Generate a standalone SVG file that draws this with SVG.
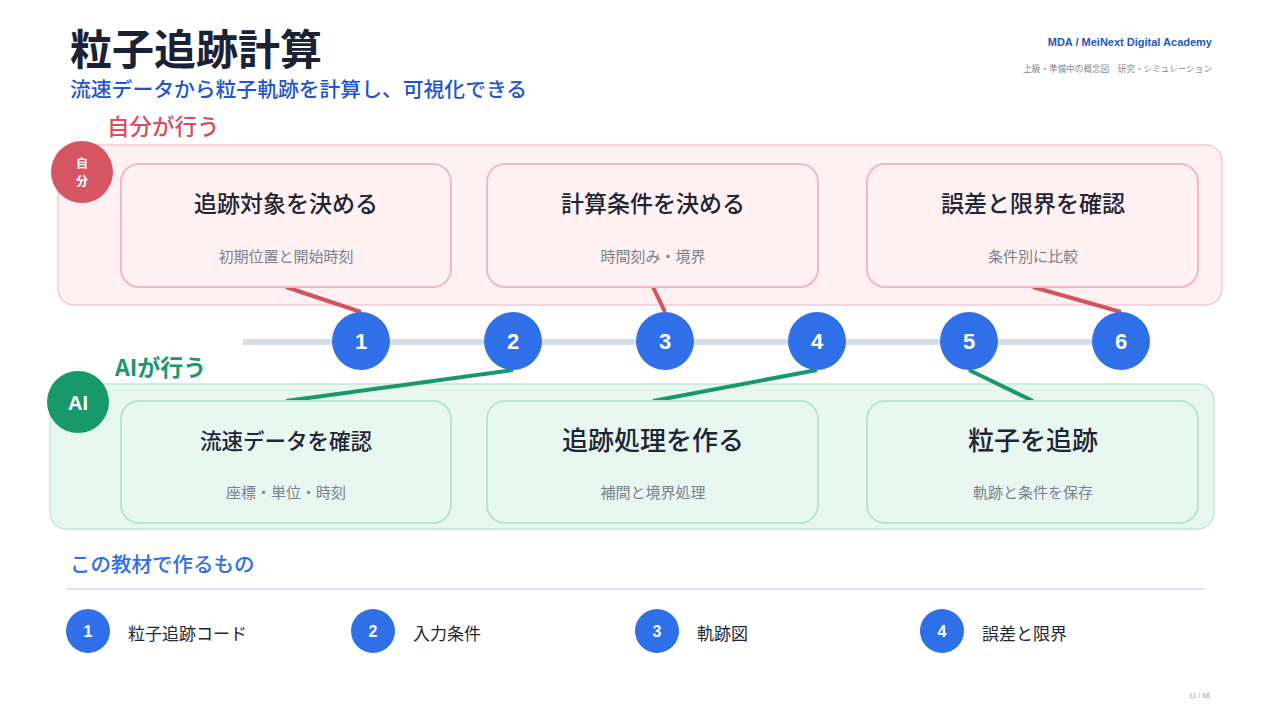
<svg xmlns="http://www.w3.org/2000/svg" width="1280" height="720" viewBox="0 0 1280 720">
<defs>
<style>
text{font-family:"Noto Sans CJK JP","Noto Sans",sans-serif}
.num{font-family:"Liberation Sans","Noto Sans",sans-serif;font-weight:bold;fill:#fff;text-anchor:middle}
.ct{font-size:23px;font-weight:500;fill:#1e2535;text-anchor:middle}
.cs{font-size:15px;fill:#7a808e;text-anchor:middle}
.pc{fill:#fff0f2;stroke:#f2b8c1;stroke-width:2}
.gc{fill:#e8f6f0;stroke:#b8e2d1;stroke-width:2}
.tc{fill:#2f6fe8}
.rl{stroke:#d55360;stroke-width:4;fill:none}
.gl{stroke:#17996a;stroke-width:4;fill:none}
.bl{font-size:17px;fill:#1e2535}
</style>
</defs>
<rect width="1280" height="720" fill="#fff"/>
<g id="header">
<text x="70" y="65" font-size="42" font-weight="bold" fill="#1b2233">粒子追跡計算</text>
<text x="70" y="97" font-size="20.8" font-weight="500" fill="#1f56c8">流速データから粒子軌跡を計算し、可視化できる</text>
<text x="1212" y="46" font-size="11" font-weight="bold" fill="#2455c6" text-anchor="end" style="font-family:'Liberation Sans',sans-serif">MDA / MeiNext Digital Academy</text>
<text x="1212" y="72" font-size="8.6" fill="#858b98" text-anchor="end">上級・準備中の概念図　研究・シミュレーション</text>
</g>
<g id="self-lane">
<text x="107" y="135" font-size="22.5" font-weight="500" fill="#d5505f">自分が行う</text>
<rect x="58" y="145" width="1164" height="160" rx="16" fill="#fff0f2" stroke="#f7c9cf" stroke-width="1.5"/>
<circle cx="82" cy="172" r="31" fill="#d65563"/>
<text x="82" y="168" font-size="12" font-weight="bold" fill="#fff" text-anchor="middle">自</text>
<text x="82" y="186" font-size="12" font-weight="bold" fill="#fff" text-anchor="middle">分</text>
</g>
<g id="ai-lane">
<text x="115" y="376" font-size="23" font-weight="bold" fill="#17996a">AIが行う</text>
<rect x="50" y="384" width="1164" height="145" rx="16" fill="#e8f6f0" stroke="#c2e6d8" stroke-width="1.5"/>
<circle cx="78" cy="402" r="31" fill="#17996a"/>
<text x="78" y="410" font-size="20" class="num">AI</text>
</g>
<g id="timeline">
<line x1="243" y1="342" x2="1121" y2="342" stroke="#d6dde8" stroke-width="6"/>
</g>
<g id="connectors">
<line class="rl" x1="286" y1="287" x2="361" y2="312"/>
<line class="rl" x1="653" y1="287" x2="665" y2="312"/>
<line class="rl" x1="1033" y1="287" x2="1121" y2="312"/>
<line class="gl" x1="513" y1="370" x2="286" y2="401"/>
<line class="gl" x1="817" y1="370" x2="653" y2="401"/>
<line class="gl" x1="969" y1="370" x2="1033" y2="401"/>
</g>
<g id="card-s1"><rect class="pc" x="121" y="164" width="330" height="123" rx="18"/><text class="ct" x="286" y="212">追跡対象を決める</text><text class="cs" x="286" y="262">初期位置と開始時刻</text></g>
<g id="card-s2"><rect class="pc" x="487" y="164" width="331" height="123" rx="18"/><text class="ct" x="653" y="212">計算条件を決める</text><text class="cs" x="653" y="262">時間刻み・境界</text></g>
<g id="card-s3"><rect class="pc" x="867" y="164" width="331" height="123" rx="18"/><text class="ct" x="1033" y="212">誤差と限界を確認</text><text class="cs" x="1033" y="262">条件別に比較</text></g>
<g id="card-a1"><rect class="gc" x="121" y="401" width="330" height="122" rx="18"/><text class="ct" x="286" y="449" style="font-size:21.5px">流速データを確認</text><text class="cs" x="286" y="498">座標・単位・時刻</text></g>
<g id="card-a2"><rect class="gc" x="487" y="401" width="331" height="122" rx="18"/><text class="ct" x="653" y="450" style="font-size:26px">追跡処理を作る</text><text class="cs" x="653" y="498">補間と境界処理</text></g>
<g id="card-a3"><rect class="gc" x="867" y="401" width="331" height="122" rx="18"/><text class="ct" x="1033" y="450" style="font-size:26px">粒子を追跡</text><text class="cs" x="1033" y="498">軌跡と条件を保存</text></g>
<g id="step1"><circle class="tc" cx="361" cy="341" r="29"/><text class="num" x="361" y="349" font-size="22">1</text></g>
<g id="step2"><circle class="tc" cx="513" cy="341" r="29"/><text class="num" x="513" y="349" font-size="22">2</text></g>
<g id="step3"><circle class="tc" cx="665" cy="341" r="29"/><text class="num" x="665" y="349" font-size="22">3</text></g>
<g id="step4"><circle class="tc" cx="817" cy="341" r="29"/><text class="num" x="817" y="349" font-size="22">4</text></g>
<g id="step5"><circle class="tc" cx="969" cy="341" r="29"/><text class="num" x="969" y="349" font-size="22">5</text></g>
<g id="step6"><circle class="tc" cx="1121" cy="341" r="29"/><text class="num" x="1121" y="349" font-size="22">6</text></g>
<g id="outputs">
<text x="70" y="572" font-size="20.5" font-weight="500" fill="#2f6fe8">この教材で作るもの</text>
<line x1="66" y1="589" x2="1204" y2="589" stroke="#dde3ee" stroke-width="2"/>
</g>
<g id="out1"><circle class="tc" cx="88" cy="631" r="22"/><text class="num" x="88" y="637" font-size="16">1</text><text class="bl" x="128" y="640">粒子追跡コード</text></g>
<g id="out2"><circle class="tc" cx="373" cy="631" r="22"/><text class="num" x="373" y="637" font-size="16">2</text><text class="bl" x="413" y="640">入力条件</text></g>
<g id="out3"><circle class="tc" cx="657" cy="631" r="22"/><text class="num" x="657" y="637" font-size="16">3</text><text class="bl" x="697" y="640">軌跡図</text></g>
<g id="out4"><circle class="tc" cx="942" cy="631" r="22"/><text class="num" x="942" y="637" font-size="16">4</text><text class="bl" x="982" y="640">誤差と限界</text></g>
<text x="1210" y="698" font-size="7" fill="#9aa0aa" text-anchor="end" style="font-family:'Liberation Sans',sans-serif">11 / 68</text>
</svg>
